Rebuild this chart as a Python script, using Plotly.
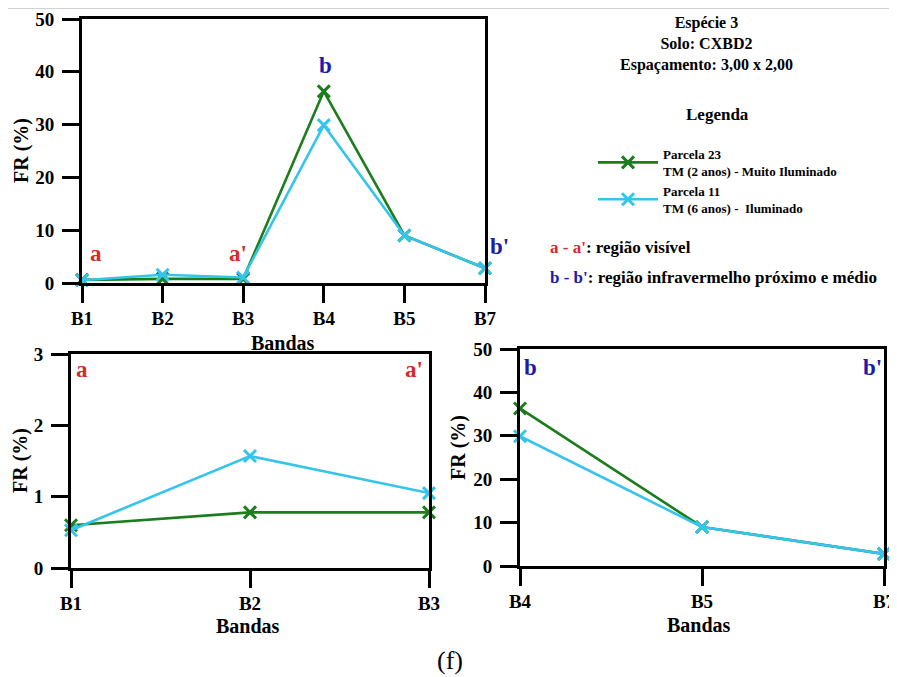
import plotly.graph_objects as go

W, H = 897, 677
OFF = 8  # page body margin
FW, FH = W - OFF, H - OFF

bands_all = ["B1", "B2", "B3", "B4", "B5", "B7"]
parcela23 = [0.60, 0.78, 0.78, 36.3, 9.0, 2.8]
parcela11 = [0.53, 1.57, 1.05, 29.9, 9.0, 2.8]

bands_vis = ["B1", "B2", "B3"]
p23_vis = [0.60, 0.78, 0.78]
p11_vis = [0.53, 1.57, 1.05]

bands_ir = ["B4", "B5", "B7"]
p23_ir = [36.3, 9.0, 2.8]
p11_ir = [29.9, 9.0, 2.8]

name23 = "Parcela 23<br>TM (2 anos) - Muito Iluminado"
name11 = "Parcela 11<br>TM (6 anos) -  Iluminado"

GREEN = "#1b7d1b"
CYAN = "#35c4ea"
RED = "#d42a2a"
BLUE = "#1c1ca8"
FONT = "Liberation Serif"


def px(x):
    return (x - OFF) / FW


def py(y):
    return 1 - (y - OFF) / FH


fig = go.Figure()


def add_pair(xs, a, b, xa, ya, show):
    for vals, col, nm in ((a, GREEN, name23), (b, CYAN, name11)):
        fig.add_trace(go.Scatter(
            x=xs, y=vals, mode="lines+markers", name=nm,
            line=dict(color=col, width=2.6),
            marker=dict(symbol="x-thin", size=12, line=dict(color=col, width=3), color=col),
            xaxis=xa, yaxis=ya, cliponaxis=False, showlegend=show,
        ))


add_pair(bands_all, parcela23, parcela11, "x", "y", True)
add_pair(bands_vis, p23_vis, p11_vis, "x2", "y2", False)
add_pair(bands_ir, p23_ir, p11_ir, "x3", "y3", False)

tickfont = dict(family=FONT, size=19, color="black", weight="bold")
common_x = dict(type="category", showline=True, linecolor="black", linewidth=3, mirror=True,
                ticks="outside", ticklen=17, tickwidth=3, tickcolor="black", automargin=False,
                tickfont=tickfont, showgrid=False, zeroline=False, ticklabelstandoff=-1)
common_y = dict(showline=True, linecolor="black", linewidth=3, mirror=True,
                ticks="outside", ticklen=17, tickwidth=3, tickcolor="black", automargin=False,
                tickfont=tickfont, showgrid=False, zeroline=False, ticklabelstandoff=4)

fig.update_layout(
    width=FW, height=FH,
    margin=dict(l=0, r=0, t=0, b=0, autoexpand=False),
    paper_bgcolor="white", plot_bgcolor="white",
    xaxis=dict(common_x, domain=[px(82), px(485)], range=[0, 5], anchor="y"),
    yaxis=dict(common_y, domain=[py(283), py(19)], range=[0, 50], tickvals=[0, 10, 20, 30, 40, 50], anchor="x"),
    xaxis2=dict(common_x, domain=[px(71), px(429)], range=[0, 2], anchor="y2"),
    yaxis2=dict(common_y, domain=[py(568), py(354)], range=[0, 3], tickvals=[0, 1, 2, 3], anchor="x2"),
    xaxis3=dict(common_x, domain=[px(520), px(884)], range=[0, 2], anchor="y3"),
    yaxis3=dict(common_y, domain=[py(566), py(349)], range=[0, 50], tickvals=[0, 10, 20, 30, 40, 50], anchor="x3"),
    legend=dict(x=px(593), y=py(139), xanchor="left", yanchor="top",
                font=dict(family=FONT, size=13, color="black", weight="bold"),
                bgcolor="rgba(0,0,0,0)", tracegroupgap=2, itemwidth=60),
    showlegend=True,
)

ann = []


def text(x, y, s, size, color="black", bold=True, xanchor="center", angle=0):
    ann.append(dict(x=px(x), y=py(y), xref="paper", yref="paper", text=s, showarrow=False,
                    xanchor=xanchor, yanchor="middle", textangle=angle,
                    font=dict(family=FONT, size=size, color=color, weight="bold" if bold else "normal")))


# axis titles
text(21, 151, "FR (%)", 20, angle=-90)
text(283, 343, "Bandas", 20)
text(21, 461, "FR (%)", 20, angle=-90)
text(248, 626, "Bandas", 20)
text(458, 448, "FR (%)", 20, angle=-90)
text(699, 625, "Bandas", 20)

# region letters
text(96, 254, "a", 23, RED)
text(238, 253, "a'", 23, RED)
text(325, 66, "b", 23, BLUE)
text(499, 246, "b'", 23, BLUE)
text(82, 369, "a", 23, RED)
text(414, 369, "a'", 23, RED)
text(530, 367, "b", 23, BLUE)
text(872, 367, "b'", 23, BLUE)

# info text
text(706, 44, "Espécie 3<br>Solo: CXBD2<br>Espaçamento: 3,00 x 2,00", 16)
text(717, 115, "Legenda", 17)
text(548, 248, "<span style='color:%s'>a - a'</span>: região visível" % RED, 17, xanchor="left")
text(548, 277, "<span style='color:%s'>b - b'</span>: região infravermelho próximo e médio" % BLUE, 17, xanchor="left")

# figure label
text(450, 660, "(f)", 26, bold=False)

fig.update_layout(annotations=ann)
fig.add_shape(type="line", xref="paper", yref="paper", x0=px(8), x1=1, y0=py(8), y1=py(8),
              line=dict(color="#c4c4c4", width=1.5))

fig.write_html("out.html")
